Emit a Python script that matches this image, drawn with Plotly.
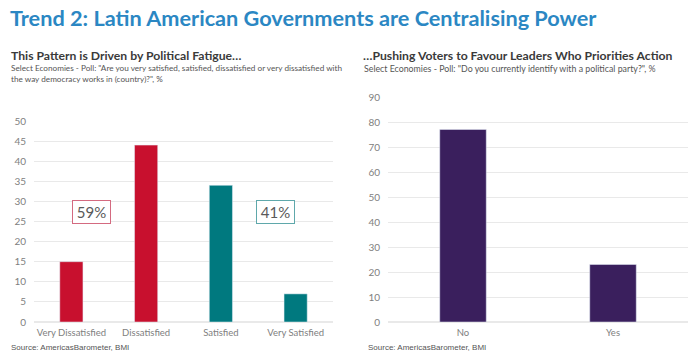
import plotly.graph_objects as go

# Data
left_categories = ["Very Dissatisfied", "Dissatisfied", "Satisfied", "Very Satisfied"]
left_values = [15, 44, 34, 7]
left_colors = ["#C8102E", "#C8102E", "#00797F", "#00797F"]
right_categories = ["No", "Yes"]
right_values = [77, 23]
left_ticks = [0, 5, 10, 15, 20, 25, 30, 35, 40, 45, 50]
right_ticks = [0, 10, 20, 30, 40, 50, 60, 70, 80, 90]

W, H = 700, 352
def py(px):
    return (H - px) / H
def px_(x):
    return x / W

fig = go.Figure()
fig.add_trace(go.Bar(x=left_categories, y=left_values, marker_color=left_colors,
                     width=0.31, xaxis="x", yaxis="y", showlegend=False))
fig.add_trace(go.Bar(x=right_categories, y=right_values, marker_color="#3A1F5D",
                     width=0.31, xaxis="x2", yaxis="y2", showlegend=False))

grid = "#E9E9E9"
tickfont = dict(family="Lato", size=10, color="#808080")
xtickfont = dict(family="Lato", size=9.5, color="#808080")
common_y = dict(showgrid=True, gridcolor=grid, gridwidth=1, zeroline=True, zerolinecolor=grid,
                showline=False, tickfont=tickfont, ticklabelstandoff=7, automargin=False)
common_x = dict(showgrid=False, showline=False, tickfont=xtickfont, zeroline=False,
                automargin=False, ticklabelstandoff=3)

fig.update_layout(
    width=W, height=H,
    margin=dict(l=0, r=0, t=0, b=0, pad=0),
    paper_bgcolor="white", plot_bgcolor="white",
    xaxis=dict(domain=[px_(34), px_(333)], anchor="y", **common_x),
    yaxis=dict(domain=[py(322), py(121)], range=[0, 50], tickvals=left_ticks, anchor="x", **common_y),
    xaxis2=dict(domain=[px_(388), px_(688)], anchor="y2", **common_x),
    yaxis2=dict(domain=[py(322), py(97)], range=[0, 90], tickvals=right_ticks, anchor="x2", **common_y),
    bargap=0.69,
)

ann = []
ann.append(dict(text="<b>Trend 2: Latin American Governments are Centralising Power</b>",
                x=px_(8), y=py(18), xref="paper", yref="paper", xanchor="left", yanchor="middle",
                showarrow=False, font=dict(family="Lato", size=21.7, color="#2B87C3")))
ann.append(dict(text="<b>This Pattern is Driven by Political Fatigue…</b>",
                x=px_(9), y=py(56), xref="paper", yref="paper", xanchor="left", yanchor="middle",
                showarrow=False, font=dict(family="Lato", size=12.2, color="#3A3A3A")))
ann.append(dict(text="Select Economies - Poll: \"Are you very satisfied, satisfied, dissatisfied or very dissatisfied with<br>the way democracy works in (country)?\", %",
                x=px_(9), y=py(73), xref="paper", yref="paper", xanchor="left", yanchor="middle",
                align="left", showarrow=False, font=dict(family="Lato", size=8.2, color="#555555")))
ann.append(dict(text="<b>…Pushing Voters to Favour Leaders Who Priorities Action</b>",
                x=px_(361), y=py(56), xref="paper", yref="paper", xanchor="left", yanchor="middle",
                showarrow=False, font=dict(family="Lato", size=12.2, color="#3A3A3A")))
ann.append(dict(text="Select Economies - Poll: \"Do you currently identify with a political party?\", %",
                x=px_(362), y=py(68), xref="paper", yref="paper", xanchor="left", yanchor="middle",
                align="left", showarrow=False, font=dict(family="Lato", size=8.8, color="#555555")))
for x0 in (9, 366):
    ann.append(dict(text="Source: AmericasBarometer, BMI",
                    x=px_(x0), y=py(347), xref="paper", yref="paper", xanchor="left", yanchor="middle",
                    showarrow=False, font=dict(family="Liberation Sans", size=8, color="#555555")))
ann.append(dict(text="59%", x=0.27, y=27.4, xref="x", yref="y", showarrow=False,
                font=dict(family="Lato", size=15, color="#5A5A5A"),
                bordercolor="#D46A80", borderwidth=1, borderpad=2, bgcolor="white", width=33))
ann.append(dict(text="41%", x=2.73, y=27.4, xref="x", yref="y", showarrow=False,
                font=dict(family="Lato", size=15, color="#5A5A5A"),
                bordercolor="#5FA8AB", borderwidth=1, borderpad=2, bgcolor="white", width=33))
fig.update_layout(annotations=ann)

fig.write_html("out.html")
